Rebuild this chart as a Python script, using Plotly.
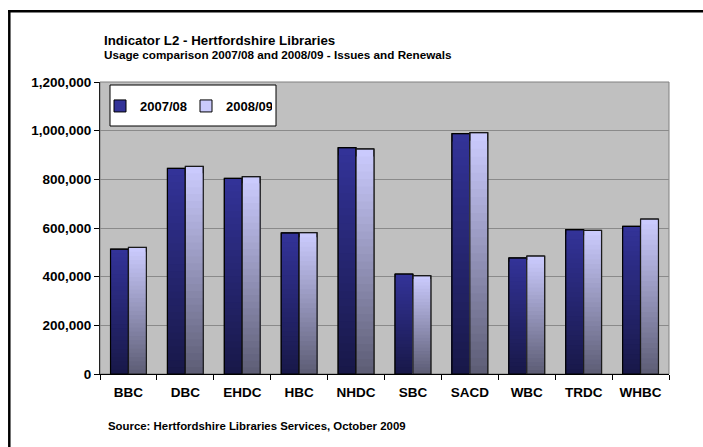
import plotly.graph_objects as go

categories = ["BBC", "DBC", "EHDC", "HBC", "NHDC", "SBC", "SACD", "WBC", "TRDC", "WHBC"]
series_names = ["2007/08", "2008/09"]
values_0708 = [513000, 845000, 804000, 580000, 930000, 411000, 988000, 477000, 593000, 607000]
values_0809 = [520000, 853000, 811000, 581000, 925000, 404000, 992000, 485000, 590000, 637000]
y_ticks = [0, 200000, 400000, 600000, 800000, 1000000, 1200000]

title_text = "Indicator L2 - Hertfordshire Libraries"
subtitle_text = "Usage comparison 2007/08 and 2008/09 - Issues and Renewals"
source_text = "Source: Hertfordshire Libraries Services, October 2009"

W, H = 703, 447
L, R, T, B = 100, 34, 82, 73
PW, PH = W - L - R, H - T - B

def px_x(p):
    return (p - L) / PW

def px_y(p):
    return (H - B - p) / PH

FONT = "Liberation Sans, Arial, sans-serif"
top_cols = [(51, 51, 153), (204, 204, 255)]
bot_cols = [(24, 24, 72), (92, 92, 116)]
outline_cols = ["#000000", "#1a1a1a"]

def mix(a, b, t):
    return "rgb(%d,%d,%d)" % tuple(round(a[i] + (b[i] - a[i]) * t) for i in range(3))

fig = go.Figure()
N = 30
for si, (name, vals) in enumerate(zip(series_names, [values_0708, values_0809])):
    for k in range(N):
        f = 1 - k / N
        t = 1 - (f - 0.5 / N)
        col = mix(top_cols[si], bot_cols[si], t)
        first = k == 0
        fig.add_trace(go.Bar(
            x=categories, y=[v * f for v in vals], name=name,
            offsetgroup=str(si), legendgroup=name, showlegend=first,
            marker=dict(color=col, line=dict(color="#000000" if first else col, width=1 if first else 0)),
            hoverinfo="skip" if not first else None,
        ))
    fig.add_trace(go.Bar(
        x=categories, y=vals, name=name, offsetgroup=str(si), legendgroup=name,
        showlegend=False,
        marker=dict(color="rgba(0,0,0,0)", line=dict(color=outline_cols[si], width=1.2)),
    ))

shapes = [
    # plot area border (top/right in gray)
    dict(type="rect", xref="paper", yref="paper", x0=0, x1=1, y0=0, y1=1,
         line=dict(color="#808080", width=1), layer="below"),
    # legend box
    dict(type="rect", xref="paper", yref="paper", x0=px_x(110), x1=px_x(276),
         y0=px_y(126), y1=px_y(85), fillcolor="white", line=dict(color="black", width=1)),
    # outer frame (left and top edges; the rest lies outside the picture)
    dict(type="line", xref="paper", yref="paper", x0=px_x(9.3), x1=px_x(9.3),
         y0=px_y(447), y1=px_y(10), line=dict(color="black", width=2.5)),
    dict(type="line", xref="paper", yref="paper", x0=px_x(8), x1=px_x(703),
         y0=px_y(11.3), y1=px_y(11.3), line=dict(color="black", width=2.5)),
]

annotations = [
    dict(text="<b>" + title_text + "</b>", xref="paper", yref="paper", x=px_x(102), y=px_y(40),
         xanchor="left", yanchor="middle", showarrow=False, font=dict(family=FONT, size=13.3, color="black")),
    dict(text="<b>" + subtitle_text + "</b>", xref="paper", yref="paper", x=px_x(102), y=px_y(54.5),
         xanchor="left", yanchor="middle", showarrow=False, font=dict(family=FONT, size=11.7, color="black")),
    dict(text="<b>" + source_text + "</b>", xref="paper", yref="paper", x=px_x(106), y=px_y(426),
         xanchor="left", yanchor="middle", showarrow=False, font=dict(family=FONT, size=11.4, color="black")),
]

fig.update_layout(
    width=W, height=H,
    margin=dict(l=L, r=R, t=T, b=B, pad=0),
    paper_bgcolor="white", plot_bgcolor="#c0c0c0",
    barmode="group", bargap=0.37, bargroupgap=0,
    font=dict(family=FONT, size=13, color="black"),
    showlegend=True,
    legend=dict(orientation="h", x=px_x(100), y=px_y(106), xanchor="left", yanchor="middle",
                bgcolor="rgba(0,0,0,0)", borderwidth=0, entrywidth=41, entrywidthmode="pixels",
                font=dict(family=FONT, size=13, color="black", weight=700),
                traceorder="normal"),
    shapes=shapes, annotations=annotations,
    xaxis=dict(type="category", categoryorder="array", categoryarray=categories,
               showline=True, linecolor="black", linewidth=1,
               ticks="outside", tickson="boundaries", ticklen=5, tickcolor="black",
               ticklabelstandoff=6,
               tickfont=dict(family=FONT, size=13.5, color="black", weight=700),
               showgrid=False),
    yaxis=dict(range=[0, 1200000], tickvals=y_ticks, tickformat=",d",
               showline=True, linecolor="#202020", linewidth=1,
               ticks="outside", ticklen=5, tickcolor="black",
               tickfont=dict(family=FONT, size=13.5, color="black", weight=700),
               showgrid=True, gridcolor="#8a8a8a", gridwidth=1, zeroline=False),
)

fig.write_html("out.html")
